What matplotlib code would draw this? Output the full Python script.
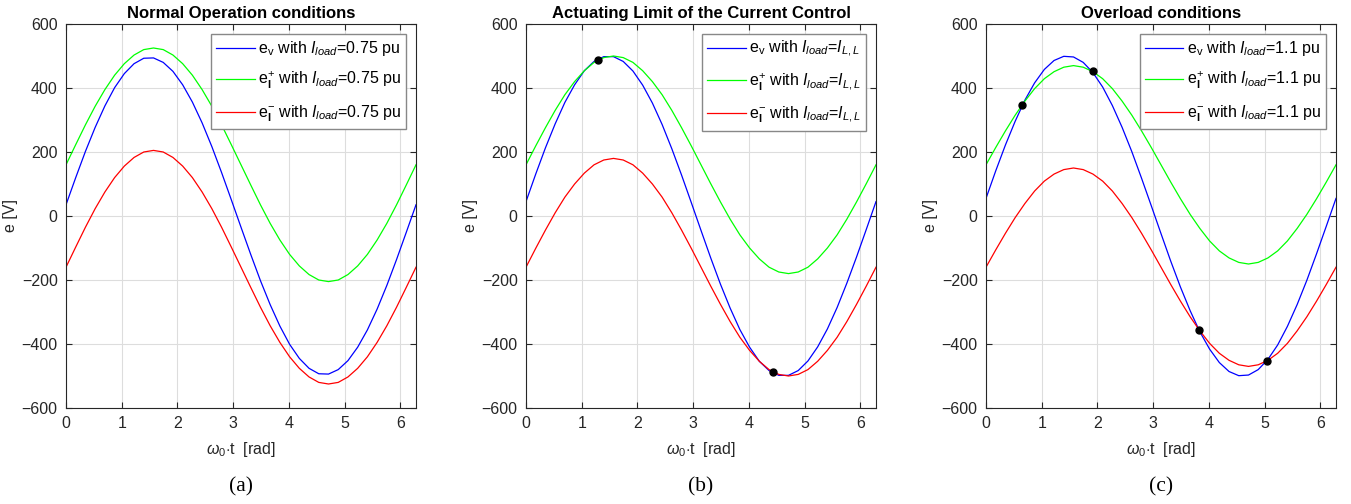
import matplotlib.pyplot as plt

plt.rcParams['font.family'] = ['Liberation Sans', 'DejaVu Sans']
plt.rcParams['mathtext.fontset'] = 'custom'
plt.rcParams['mathtext.rm'] = 'Liberation Sans'
plt.rcParams['mathtext.it'] = 'Liberation Sans:italic'
plt.rcParams['mathtext.bf'] = 'Liberation Sans:bold'

# angle grid [rad], 10 deg steps
theta = [0, 0.1745, 0.3491, 0.5236, 0.6981, 0.8727, 1.0472, 1.2217, 1.3963,
         1.5708, 1.7453, 1.9199, 2.0944, 2.2689, 2.4435, 2.6180, 2.7925, 2.9671,
         3.1416, 3.3161, 3.4907, 3.6652, 3.8397, 4.0143, 4.1888, 4.3633, 4.5379,
         4.7124, 4.8869, 5.0615, 5.2360, 5.4105, 5.5851, 5.7596, 5.9341, 6.1087,
         6.2832]

# (a) normal operation
ev_a = [35, 120, 202, 277, 344, 401, 445, 476, 493, 494, 480, 452, 410, 356, 291,
        217, 136, 51, -35, -120, -202, -277, -344, -401, -445, -476, -493, -494,
        -480, -452, -410, -356, -291, -217, -136, -51, 35]
ep_a = [160, 223, 285, 343, 395, 440, 476, 503, 520, 525, 520, 503, 476, 440, 395,
        343, 285, 223, 160, 97, 35, -23, -75, -120, -156, -183, -200, -205, -200,
        -183, -156, -120, -75, -23, 35, 97, 160]
en_a = [-160, -97, -35, 23, 75, 120, 156, 183, 200, 205, 200, 183, 156, 120, 75,
        23, -35, -97, -160, -223, -285, -343, -395, -440, -476, -503, -520, -525,
        -520, -503, -476, -440, -395, -343, -285, -223, -160]

# (b) actuating limit
ev_b = [45, 131, 213, 288, 355, 410, 454, 483, 498, 498, 483, 453, 409, 353, 286,
        210, 128, 42, -45, -131, -213, -288, -355, -410, -454, -483, -498, -498,
        -483, -453, -409, -353, -286, -210, -128, -42, 45]
ep_b = [160, 219, 276, 330, 379, 420, 454, 480, 495, 500, 495, 480, 454, 420, 379,
        330, 276, 219, 160, 101, 44, -10, -59, -100, -134, -160, -175, -180, -175,
        -160, -134, -100, -59, -10, 44, 101, 160]
en_b = [-160, -101, -44, 10, 59, 100, 134, 160, 175, 180, 175, 160, 134, 100, 59,
        10, -44, -101, -160, -219, -276, -330, -379, -420, -454, -480, -495, -500,
        -495, -480, -454, -420, -379, -330, -276, -219, -160]
dots_b_x = [1.30, 4.44]
dots_b_y = [488, -487]

# (c) overload
ev_c = [55, 141, 222, 296, 362, 416, 458, 486, 499, 497, 480, 448, 403, 345, 277,
        201, 118, 32, -55, -141, -222, -296, -362, -416, -458, -486, -499, -497,
        -480, -448, -403, -345, -277, -201, -118, -32, 55]
ep_c = [160, 214, 266, 315, 359, 398, 429, 451, 465, 470, 465, 451, 429, 398, 359,
        315, 266, 214, 160, 106, 54, 5, -39, -78, -109, -131, -145, -150, -145,
        -131, -109, -78, -39, 5, 54, 106, 160]
en_c = [-160, -106, -54, -5, 39, 78, 109, 131, 145, 150, 145, 131, 109, 78, 39,
        -5, -54, -106, -160, -214, -266, -315, -359, -398, -429, -451, -465, -470,
        -465, -451, -429, -398, -359, -315, -266, -214, -160]
dots_c_x = [0.65, 1.92, 3.82, 5.05]
dots_c_y = [348, 452, -355, -453]

titles = ['Normal Operation conditions', 'Actuating Limit of the Current Control',
          'Overload conditions']
loads = ['=0.75 pu', r'=$\mathit{I}_{\mathit{L,L}}$', '=1.1 pu']
captions = ['(a)', '(b)', '(c)']

panels = [(ev_a, ep_a, en_a, [], []),
          (ev_b, ep_b, en_b, dots_b_x, dots_b_y),
          (ev_c, ep_c, en_c, dots_c_x, dots_c_y)]

fig = plt.figure(figsize=(13.51, 5.04), dpi=100)
lefts = [66, 526, 986]
for i, (ev, ep, en, dx, dy) in enumerate(panels):
    ax = fig.add_axes([lefts[i] / 1351, 96 / 504, 350 / 1351, 384 / 504])
    load = r'$\mathit{I}_{\mathit{load}}$' + loads[i]
    ax.plot(theta, ev, color='#0000ff', lw=0.9, label=r'e$_{\mathrm{v}}$ with ' + load)
    ax.plot(theta, ep, color='#00ff00', lw=0.9, label=r'e$_{\mathbf{I}}^{+}$ with ' + load)
    ax.plot(theta, en, color='#ff0000', lw=0.9, label=r'e$_{\mathbf{I}}^{-}$ with ' + load)
    if dx:
        ax.plot(dx, dy, 'o', color='black', ms=5, zorder=5)
    ax.set_xlim(0, 6.2832)
    ax.set_ylim(-600, 600)
    ax.set_xticks(range(0, 7))
    ax.set_yticks(range(-600, 601, 200))
    ax.grid(True, color='#dddddd', lw=0.8)
    ax.tick_params(direction='in', top=True, right=True, labelsize=11.5, length=4,
                   width=0.8, colors='#262626', labelcolor='#262626', pad=6)
    for sp in ax.spines.values():
        sp.set_color('#262626')
        sp.set_linewidth(0.8)
    ax.set_title(titles[i], fontsize=12, fontweight='bold', pad=4)
    ax.set_xlabel(r'$\omega_0$$\cdot$t  [rad]', fontsize=11.5, color='#262626', labelpad=6)
    ax.set_ylabel('e [V]', fontsize=11.5, color='#262626')
    ax.yaxis.set_label_coords(-48 / 350, 0.5)
    leg = ax.legend(loc='upper right', fontsize=11.5, handlelength=2.4, handletextpad=0.2,
                    borderaxespad=0.6, fancybox=False, framealpha=1,
                    borderpad=0.35, labelspacing=0.75)
    leg.get_frame().set_edgecolor('#888888')
    leg.get_frame().set_linewidth(1.0)
    fig.text((lefts[i] + 175) / 1351, 17 / 504, captions[i], ha='center', va='center',
             fontsize=15.5, family='Liberation Serif')

fig.savefig('out.png', dpi=100)
